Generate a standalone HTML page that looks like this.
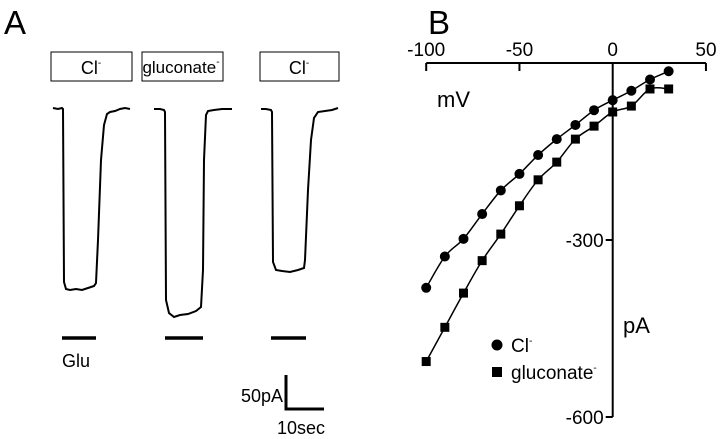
<!DOCTYPE html>
<html><head><meta charset="utf-8"><style>
body{margin:0;background:#fff;width:720px;height:439px;overflow:hidden}
svg{display:block;font-family:"Liberation Sans",Arial,sans-serif}
</style></head><body>
<svg width="720" height="439" viewBox="0 0 720 439">
<g fill="none" stroke="#000">
<text x="4" y="34" font-size="33" fill="#000" stroke="none">A</text>
<rect x="51" y="52" width="81" height="29" stroke-width="1"/>
<text x="91" y="74" font-size="18" text-anchor="middle" fill="#000" stroke="none">Cl<tspan font-size="10" dy="-8">-</tspan></text>
<rect x="142" y="52" width="81" height="29" stroke-width="1"/>
<text x="181" y="73" font-size="17" text-anchor="middle" fill="#000" stroke="none">gluconate<tspan font-size="10" dy="-8">-</tspan></text>
<rect x="260" y="52" width="79" height="29" stroke-width="1"/>
<text x="299" y="74" font-size="18" text-anchor="middle" fill="#000" stroke="none">Cl<tspan font-size="10" dy="-8">-</tspan></text>
<path d="M53 108 L58 109 L62 108 L63 109 L64 282 L66 289 L70 290 L76 289 L82 290 L88 288 L94 286 L96 283 L98 240 L101 160 L104 125 L107 114 L110 112 L115 111 L120 109 L125 108 L130 109" stroke-width="2"/>
<path d="M154 109 L160 109 L164 110 L165 112 L166 300 L169 313 L174 317 L180 315 L188 314 L196 311 L201 307 L203 270 L204 160 L206 115 L208 111 L214 110 L222 109 L232 109" stroke-width="2"/>
<path d="M261 109 L266 109 L271 110 L272 112 L273 262 L276 270 L282 271 L290 272 L298 270 L304 268 L305 260 L308 190 L311 140 L314 118 L318 112 L325 111 L332 110 L338 108" stroke-width="2"/>
<line x1="62" y1="338" x2="96" y2="338" stroke-width="3.5"/>
<line x1="165" y1="338" x2="203" y2="338" stroke-width="3.5"/>
<line x1="271" y1="338" x2="306" y2="338" stroke-width="3.5"/>
<text x="62" y="367" font-size="18" fill="#000" stroke="none">Glu</text>
<path d="M286 375 L286 409 L324 409" stroke-width="3"/>
<text x="283" y="402" font-size="18" text-anchor="end" fill="#000" stroke="none">50pA</text>
<text x="277" y="434" font-size="18" fill="#000" stroke="none">10sec</text>
</g>
<g id="b"></g>
</svg>
<script>
const voltages=[-100,-90,-80,-70,-60,-50,-40,-30,-20,-10,0,10,20,30];
const clCurrent=[-381,-328,-298,-256,-216,-188,-156,-129,-105,-80,-63,-47,-28,-14];
const gluCurrent=[-506,-448,-390,-335,-290,-242,-198,-168,-129,-107,-83,-73,-44,-44];
const xTicks=[-100,-50,0,50];
const yTicks=[-300,-600];
const NS="http://www.w3.org/2000/svg";
const g=document.getElementById('b');
const X=v=>612.7+v*1.865;
const Y=p=>63-p*177/300;
function mk(t,a,txt){const e=document.createElementNS(NS,t);for(const k in a)e.setAttribute(k,a[k]);if(txt!==undefined)e.textContent=txt;g.appendChild(e);return e;}
let e=mk('text',{x:428,y:34,'font-size':33});


e.textContent='B';
e=mk('line',{x1:X(-100),y1:63,x2:X(50),y2:63,stroke:'#000','stroke-width':2});


e=mk('line',{x1:X(0),y1:63,x2:X(0),y2:Y(-600),stroke:'#000','stroke-width':2});


xTicks.forEach(t=>{
 let l=mk('line',{x1:X(t),y1:63,x2:X(t),y2:t===0?63:71,stroke:'#000','stroke-width':2});
 
 
 let s=mk('text',{x:X(t),y:56,'font-size':19,'text-anchor':'middle'},String(t));
 
 
});
yTicks.forEach(t=>{
 let l=mk('line',{x1:X(0)-7,y1:Y(t),x2:X(0),y2:Y(t),stroke:'#000','stroke-width':2});
 
 
 let s=mk('text',{x:X(0)-9,y:Y(t)+7,'font-size':19,'text-anchor':'end'},String(t));
 
 
});
e=mk('text',{x:437,y:107,'font-size':22},'mV');


e=mk('text',{x:623,y:333,'font-size':22},'pA');


function curve(vals){
 const p=voltages.map((v,i)=>[X(v),Y(vals[i])]);
 let d='M'+p[0][0]+' '+p[0][1];
 for(let i=0;i<p.length-1;i++){
  const p0=p[Math.max(0,i-1)],p1=p[i],p2=p[i+1],p3=p[Math.min(p.length-1,i+2)];
  d+=' C'+(p1[0]+(p2[0]-p0[0])/6)+' '+(p1[1]+(p2[1]-p0[1])/6)+' '+(p2[0]-(p3[0]-p1[0])/6)+' '+(p2[1]-(p3[1]-p1[1])/6)+' '+p2[0]+' '+p2[1];
 }
 return d;
}
e=mk('path',{d:curve(clCurrent),fill:'none',stroke:'#000','stroke-width':1.5});


e=mk('path',{d:curve(gluCurrent),fill:'none',stroke:'#000','stroke-width':1.5});


voltages.forEach((v,i)=>{
 let c=mk('circle',{cx:X(v),cy:Y(clCurrent[i]),r:5,fill:'#000'});
 
 
 let r=mk('rect',{x:X(v)-4.5,y:Y(gluCurrent[i])-4.5,width:9,height:9,fill:'#000'});
 
 
});
e=mk('circle',{cx:497,cy:345,r:5.5,fill:'#000'});


e=mk('text',{x:511,y:352,'font-size':19});


e.innerHTML='Cl<tspan font-size="10" dy="-8">-</tspan>';
e=mk('rect',{x:492,y:367,width:10,height:10,fill:'#000'});


e=mk('text',{x:511,y:379,'font-size':19});


e.innerHTML='gluconate<tspan font-size="10" dy="-8">-</tspan>';
</script>
</body></html>
